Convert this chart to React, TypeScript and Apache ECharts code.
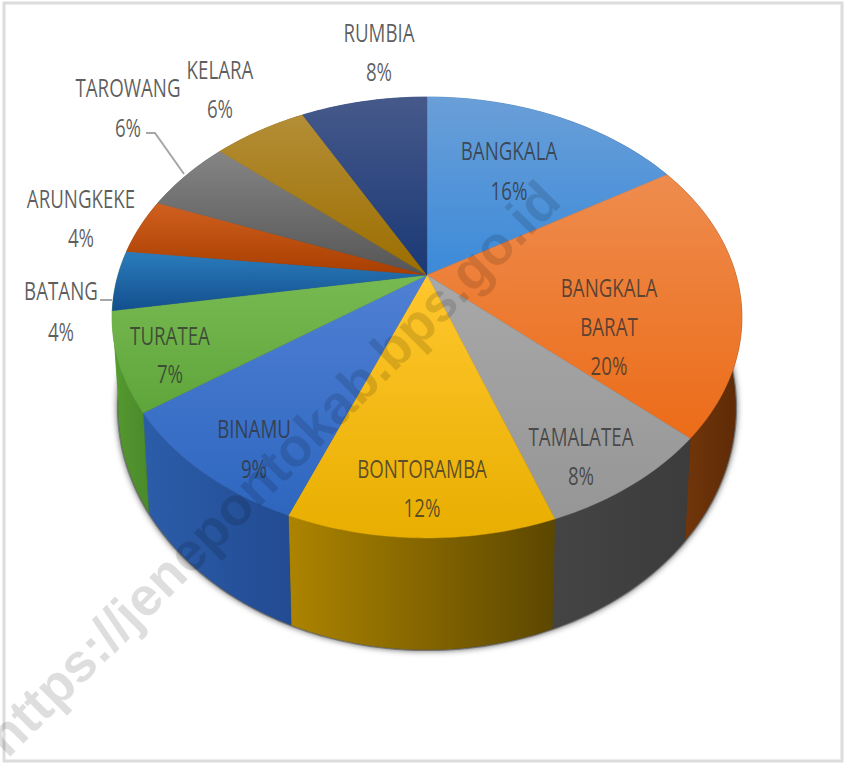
import React, { useEffect, useRef } from "react";
import * as echarts from "echarts";

const categories = ["BANGKALA", "BANGKALA\nBARAT", "TAMALATEA", "BONTORAMBA", "BINAMU", "TURATEA", "BATANG", "ARUNGKEKE", "TAROWANG", "KELARA", "RUMBIA"];
const percentages = [16.3, 20.4, 7.8, 11.5, 9.2, 7.2, 4.4, 4.1, 5.5, 5.8, 7.8];

const topStops = [
  ["#6a9fd8", "#3c8ad9"], ["#ee8c4e", "#ec6c18"], ["#a8a8a8", "#969696"], ["#ffc72e", "#e8ae00"],
  ["#4f80d4", "#2e66bf"], ["#78ba52", "#5ea53a"], ["#2b7cbc", "#134f8e"], ["#d0601f", "#a83e00"],
  ["#858585", "#555555"], ["#b48e36", "#9c6e00"], ["#46598a", "#1a3976"],
];
const wallStops = [
  ["#2a65a8", "#1f4f88"], ["#7a3a0c", "#5c2a06"], ["#444444", "#3c3c3c"], ["#ad8400", "#5c4700"],
  ["#2c5da9", "#224b92"], ["#559a30", "#4a8a2a"], ["#559a30", "#559a30"], ["#8a3a08", "#8a3a08"],
  ["#555555", "#555555"], ["#7a5c10", "#7a5c10"], ["#1c3a70", "#1c3a70"],
];
const labelPos: number[][] = [
  [509, 150, 190], [609, 287, 326, 365], [581, 436, 475], [422, 468, 507], [254, 428, 468],
  [170, 335, 373], [61, 290, 331], [81, 198, 237], [128, 87, 127], [220, 69, 108], [379, 32, 71],
];

const CX = 427, CY = 275, A = 309, B = 212.3, K = 0.1927;
const total = percentages.reduce((s, v) => s + v, 0);
const TAU = Math.PI * 2;

function rim(t: number) {
  const u = Math.sin(t), v = -Math.cos(t), d = 1 - K * v;
  return [CX + (A * u) / d, CY + (B * v) / d];
}
function lowRim(t: number) {
  const p = rim(t);
  return [CX + (p[0] - CX) * 0.98, p[1] * 1.096 + 60];
}
function arc(from: number, to: number, f: (t: number) => number[]) {
  const n = Math.max(2, Math.ceil((to - from) / 0.02));
  const out: number[][] = [];
  for (let i = 0; i <= n; i++) out.push(f(from + ((to - from) * i) / n));
  return out;
}
function range(i: number) {
  const before = percentages.slice(0, i).reduce((s, v) => s + v, 0);
  return [(before / total) * TAU, ((before + percentages[i]) / total) * TAU];
}
const grad = (x2: number, y2: number, c: string[]) =>
  new echarts.graphic.LinearGradient(0, 0, x2, y2, [{ offset: 0, color: c[0] }, { offset: 1, color: c[1] }]);

export default function App() {
  const ref = useRef<HTMLDivElement>(null);
  useEffect(() => {
    const chart = echarts.init(ref.current!, undefined, { renderer: "svg" });
    const txt = (s: string, x: number, y: number) => ({
      type: "text", x, y, z: 50, silent: true, scaleX: 0.72,
      style: { text: s, fill: "rgba(50,50,50,0.78)", font: '26px "Open Sans", sans-serif', textAlign: "center", textVerticalAlign: "middle" },
    });
    const labels: any[] = [];
    categories.forEach((c, i) => {
      const lines = [...c.split("\n"), `${Math.round(percentages[i])}%`];
      lines.forEach((l, j) => labels.push(txt(l, labelPos[i][0], labelPos[i][j + 1])));
    });
    const leader = (points: number[][]) => ({
      type: "polyline", z: 40, silent: true, shape: { points },
      style: { stroke: "#a6a6a6", lineWidth: 2, fill: "none" },
    });
    chart.setOption({
      animation: false,
      backgroundColor: "#ffffff",
      tooltip: { show: false },
      series: [
        {
          type: "custom", coordinateSystem: "none", z: 1, silent: true, data: [total],
          renderItem: () => ({
            type: "polygon",
            shape: { points: arc(0, TAU, lowRim) },
            style: { fill: "#333333", stroke: "rgba(70,70,70,0.55)", lineWidth: 3, shadowBlur: 6, shadowColor: "rgba(0,0,0,0.7)" },
          }),
        },
        {
          type: "custom", coordinateSystem: "none", z: 2, silent: true, data: percentages,
          renderItem: (p: any) => {
            const [a, b] = range(p.dataIndex);
            const fill = grad(1, 0, wallStops[p.dataIndex]);
            return {
              type: "polygon",
              shape: { points: [...arc(a, b, rim), ...arc(a, b, lowRim).reverse()] },
              style: { fill, stroke: fill, lineWidth: 0.4 },
            };
          },
        },
        {
          type: "custom", coordinateSystem: "none", z: 3, silent: true, data: percentages,
          renderItem: (p: any) => {
            const [a, b] = range(p.dataIndex);
            const fill = grad(0, 1, topStops[p.dataIndex]);
            return {
              type: "polygon",
              shape: { points: [[CX, CY], ...arc(a, b, rim)] },
              style: { fill, stroke: fill, lineWidth: 0.4 },
            };
          },
        },
      ],
      graphic: [
        { type: "rect", z: 0, silent: true, shape: { x: 4, y: 3, width: 838, height: 758 }, style: { fill: "none", stroke: "#dcdcdc", lineWidth: 3 } },
        leader([[146, 133], [155, 133], [184, 174]]),
        leader([[100, 300], [112, 300]]),
        ...labels,
        {
          type: "text", x: 272, y: 468, rotation: Math.PI / 4, z: 60, silent: true,
          style: {
            text: "https://jenepontokab.bps.go.id", fill: "rgba(0,0,0,0.13)",
            font: 'bold 54px "Liberation Sans", sans-serif', textAlign: "center", textVerticalAlign: "middle",
          },
        },
      ],
    });
    return () => chart.dispose();
  }, []);
  return <div ref={ref} style={{ position: "absolute", left: 0, top: 0, width: 846, height: 763 }} />;
}
